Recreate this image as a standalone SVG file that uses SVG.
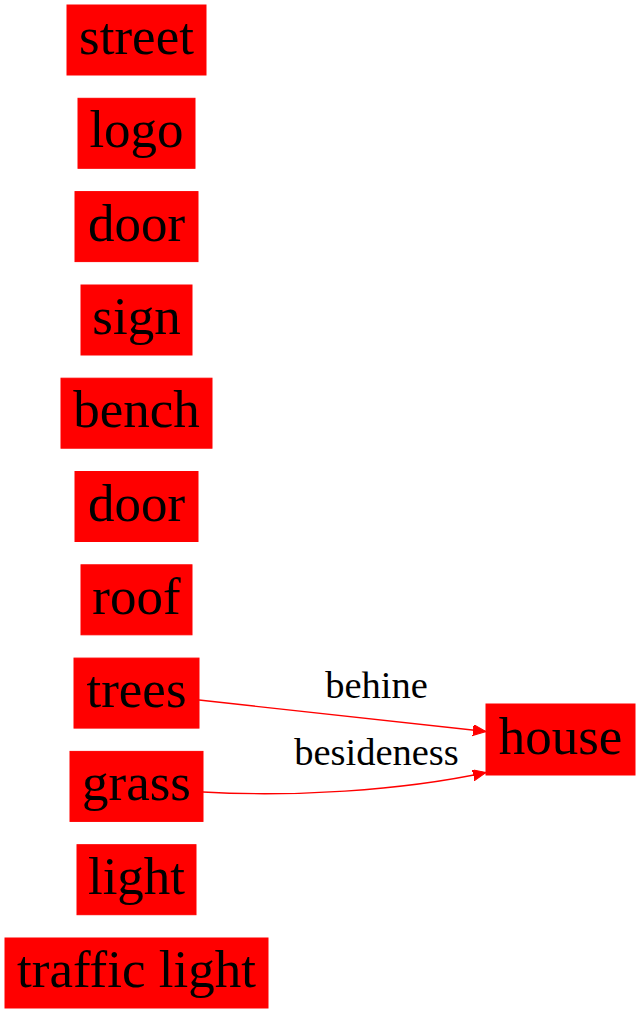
<svg xmlns="http://www.w3.org/2000/svg" width="640" height="1013" viewBox="0 0 640 1013">
<style>
.n rect{fill:#ff0000;stroke:#ff0000;stroke-width:1}
.n text{font-family:"Liberation Serif","Times New Roman",serif;font-size:53px;fill:#000;text-anchor:middle}
.e path{fill:none;stroke:#ff0000;stroke-width:1.3}
.lbl{font-family:"Liberation Serif","Times New Roman",serif;font-size:38.5px;fill:#000;text-anchor:middle}
</style>
<defs>
<marker id="ah" markerWidth="14" markerHeight="12" refX="13" refY="5.5" orient="auto" markerUnits="userSpaceOnUse">
<path d="M0,0 L13,5.5 L0,11 Z" fill="#ff0000" stroke="#ff0000" stroke-width="1"/>
</marker>
</defs>
<rect width="640" height="1013" fill="#fff"/>
<g id="street" class="n"><rect x="67" y="5" width="139" height="70"/><text x="136.5" y="54">street</text></g>
<g id="logo" class="n"><rect x="78" y="98.3" width="117" height="70"/><text x="136.5" y="147.3">logo</text></g>
<g id="door1" class="n"><rect x="75" y="191.6" width="123" height="70"/><text x="136.5" y="240.6">door</text></g>
<g id="sign" class="n"><rect x="81" y="285" width="111" height="70"/><text x="136.5" y="334">sign</text></g>
<g id="bench" class="n"><rect x="61" y="378.2" width="151" height="70"/><text x="136.5" y="427.2">bench</text></g>
<g id="door2" class="n"><rect x="75" y="471.5" width="123" height="70"/><text x="136.5" y="520.5">door</text></g>
<g id="roof" class="n"><rect x="81" y="564.8" width="111" height="70"/><text x="136.5" y="613.8">roof</text></g>
<g id="trees" class="n"><rect x="74" y="658.1" width="125" height="70"/><text x="136.5" y="707.1">trees</text></g>
<g id="grass" class="n"><rect x="70" y="751.4" width="133" height="70"/><text x="136.5" y="800.4">grass</text></g>
<g id="light" class="n"><rect x="77" y="844.7" width="119" height="70"/><text x="136.5" y="893.7">light</text></g>
<g id="traffic_light" class="n"><rect x="5" y="938" width="263" height="70"/><text x="136.5" y="987">traffic light</text></g>
<g id="house" class="n"><rect x="486" y="704" width="149" height="71"/><text x="560.5" y="754">house</text></g>
<g id="edges" class="e">
<path d="M199,700 L486,731.5" marker-end="url(#ah)"/>
<path d="M203,792 C290,797 400,791 486,772.5" marker-end="url(#ah)"/>
<text class="lbl" x="376.5" y="698">behine</text>
<text class="lbl" x="376.5" y="765">besideness</text>
</g>
</svg>
